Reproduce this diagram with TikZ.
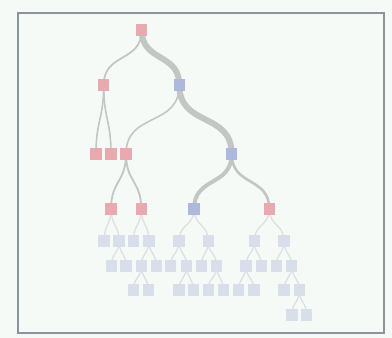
\documentclass[tikz,border=0pt]{standalone}
\pgfdeclarelayer{paper}
\pgfdeclarelayer{background}
\pgfsetlayers{paper,background,main}
\definecolor{papercol}{HTML}{F5FAF7}
\definecolor{framecol}{HTML}{8C939B}
\definecolor{nodered}{HTML}{E8AAB0}
\definecolor{nodeblue}{HTML}{AEB7DC}
\definecolor{nodelight}{HTML}{D8DFEB}
\definecolor{linkcol}{HTML}{C3C7C3}
\definecolor{linklight}{HTML}{DCE0E2}
\tikzset{
  leaf/.style={rectangle, inner sep=0pt, minimum size=11.5pt},
  redbox/.style={leaf, fill=nodered},
  bluebox/.style={leaf, fill=nodeblue},
  lightbox/.style={leaf, fill=nodelight},
  link/.style={draw=linkcol, line width=#1, out=-90, in=90, looseness=1.25},
  link/.default=1.6pt,
  faint/.style={draw=linklight, line width=1.3pt, out=-90, in=90, looseness=1.25},
}
\begin{document}
\begin{tikzpicture}[x=1pt, y=-1pt]
  \begin{pgfonlayer}{paper}
    \fill[papercol] (0,0) rectangle (392,338);
    \draw[framecol, line width=2pt] (17.5,12.5) rectangle (384,332.5);
  \end{pgfonlayer}
  \useasboundingbox (0,0) rectangle (392,338);

  % tree nodes
  \node[redbox]  (r)  at (141.7,30) {};
  \node[redbox]  (a)  at (103.7,85) {};
  \node[bluebox] (b)  at (179.3,85) {};
  \node[redbox]  (a1) at (96,154) {};
  \node[redbox]  (a2) at (111,154) {};
  \node[redbox]  (b1) at (126,154) {};
  \node[bluebox] (b2) at (231.7,154) {};
  \node[redbox]  (c1) at (111,209) {};
  \node[redbox]  (c2) at (141.3,209) {};
  \node[bluebox] (c3) at (194,209) {};
  \node[redbox]  (c4) at (269.3,209) {};
  \foreach \n/\x in {d1/104,d2/119,d3/133.3,d4/149,d5/179,d6/208.3,d7/254.3,d8/284}
    \node[lightbox] (\n) at (\x,241) {};
  \foreach \n/\x in {e1/111.3,e2/126,e3/141.3,e4/156.3,e5/170.7,e6/186.7,e7/201.3,e8/216.7,e9/246,e10/261.3,e11/276.3,e12/291.7}
    \node[lightbox] (\n) at (\x,266) {};
  \foreach \n/\x in {f1/133.3,f2/148.3,f3/179,f4/193.3,f5/208.3,f6/223.3,f7/238.7,f8/254,f9/284,f10/299.3}
    \node[lightbox] (\n) at (\x,290) {};
  \node[lightbox] (g1) at (292,315) {};
  \node[lightbox] (g2) at (306.7,315) {};

  % links, weighted by flow
  \begin{pgfonlayer}{background}
    \draw[link=1.8pt] (r.center)  to (a.center);
    \draw[link=6pt]   (r.center)  to (b.center);
    \draw[link=1.6pt] (a.center)  to (a1.center);
    \draw[link=1.6pt] (a.center)  to (a2.center);
    \draw[link=1.6pt] (b.center)  to (b1.center);
    \draw[link=6pt]   (b.center)  to (b2.center);
    \draw[link=1.8pt] (b1.center) to (c1.center);
    \draw[link=1.8pt] (b1.center) to (c2.center);
    \draw[link=4pt]   (b2.center) to (c3.center);
    \draw[link=2.6pt] (b2.center) to (c4.center);
    \foreach \p/\c in {c1/d1,c1/d2,c2/d3,c2/d4,c3/d5,c3/d6,c4/d7,c4/d8,
                       d2/e1,d2/e2,d4/e3,d4/e4,d5/e5,d5/e6,d6/e7,d6/e8,d7/e9,d7/e10,d8/e11,d8/e12,
                       e3/f1,e3/f2,e6/f3,e6/f4,e8/f5,e8/f6,e9/f7,e9/f8,e12/f9,e12/f10,
                       f10/g1,f10/g2}
      \draw[faint] (\p.center) to (\c.center);
  \end{pgfonlayer}
\end{tikzpicture}
\end{document}
